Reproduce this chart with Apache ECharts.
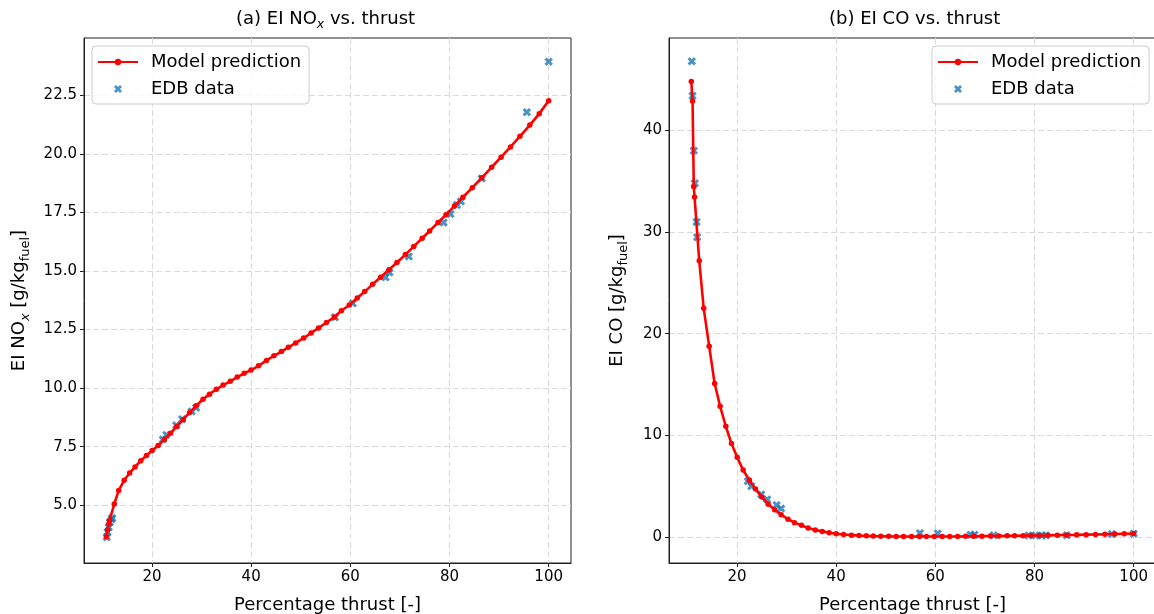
<!DOCTYPE html>
<html><head><meta charset="utf-8">
<script src="https://cdn.jsdelivr.net/npm/echarts@6/dist/echarts.min.js"></script>
<style>html,body{margin:0;padding:0;background:#fff}#c{width:1154px;height:614px}</style>
</head><body><div id="c"></div><script>
// ---- data ----
const modelThrust = [10.8, 11.05, 11.3, 11.45, 12.4, 13.3, 14.4, 15.5, 16.6, 17.75, 18.9, 20.05, 21.25, 22.5, 23.75, 25.0, 26.3, 27.6, 28.9, 30.3, 31.6, 33.0, 34.35, 35.8, 37.2, 38.6, 40.0, 41.5, 43.1, 44.6, 46.1, 47.5, 49.0, 50.6, 52.1, 53.6, 55.2, 56.8, 58.2, 59.8, 61.4, 62.9, 64.5, 66.1, 67.8, 69.4, 71.1, 72.8, 74.5, 76.0, 77.7, 79.3, 81.0, 82.7, 84.6, 86.5, 88.5, 90.4, 92.3, 94.2, 96.2, 98.1, 100.0];
const modelNox = [3.65, 3.95, 4.2, 4.35, 5.05, 5.63, 6.06, 6.37, 6.63, 6.9, 7.12, 7.33, 7.55, 7.8, 8.07, 8.36, 8.65, 8.96, 9.24, 9.52, 9.74, 9.95, 10.13, 10.29, 10.47, 10.63, 10.77, 10.95, 11.18, 11.38, 11.56, 11.74, 11.93, 12.14, 12.35, 12.57, 12.8, 13.04, 13.3, 13.55, 13.85, 14.12, 14.43, 14.73, 15.05, 15.36, 15.7, 16.05, 16.4, 16.71, 17.07, 17.4, 17.78, 18.15, 18.56, 18.98, 19.43, 19.86, 20.3, 20.75, 21.23, 21.72, 22.27];
const modelCo = [44.8, 42.9, 34.45, 33.46, 27.17, 22.5, 18.78, 15.1, 12.88, 10.9, 9.2, 7.84, 6.6, 5.6, 4.72, 3.95, 3.24, 2.68, 2.2, 1.76, 1.42, 1.16, 0.9, 0.7, 0.56, 0.43, 0.33, 0.25, 0.19, 0.15, 0.12, 0.1, 0.08, 0.07, 0.06, 0.05, 0.05, 0.05, 0.05, 0.05, 0.05, 0.06, 0.06, 0.07, 0.08, 0.09, 0.1, 0.11, 0.12, 0.13, 0.14, 0.15, 0.16, 0.17, 0.19, 0.2, 0.22, 0.24, 0.26, 0.28, 0.3, 0.32, 0.34];
const edbThrust = [10.9, 11.05, 11.3, 11.5, 11.86, 11.98, 22.2, 22.9, 24.9, 26.1, 28.0, 28.9, 56.9, 60.5, 67.1, 67.9, 71.8, 78.8, 80.2, 81.5, 82.3, 86.5, 95.6, 100.0];
const edbNox = [3.63, 3.85, 4.06, 4.27, 4.4, 4.45, 7.8, 8.0, 8.41, 8.67, 9.0, 9.16, 13.02, 13.62, 14.73, 14.94, 15.62, 17.07, 17.43, 17.82, 17.97, 18.95, 21.78, 23.94];
const edbCo = [46.8, 43.4, 38.0, 34.8, 31.0, 29.5, 5.5, 5.0, 4.2, 3.7, 3.15, 2.8, 0.38, 0.36, 0.22, 0.22, 0.17, 0.16, 0.16, 0.16, 0.16, 0.17, 0.3, 0.33];
const xTicks = [20, 40, 60, 80, 100];
const noxTicks = [5.0, 7.5, 10.0, 12.5, 15.0, 17.5, 20.0, 22.5];
const coTicks = [0, 10, 20, 30, 40];
const seriesNames = ['Model prediction', 'EDB data'];

// ---- styling ----
const FONT = 'DejaVu Sans';
const X_MARK = 'path://M2,0 L4,2 L6,0 L8,2 L6,4 L8,6 L6,8 L4,6 L2,8 L0,6 L2,4 L0,2 Z';
const pairs = (xs, ys) => xs.map((x, i) => [x, ys[i]]);
const split = { show: true, lineStyle: { color: '#dadada', width: 1, type: [6, 3] } };
const richName = {
  n: { fontFamily: FONT, fontSize: 18, fontWeight: 'normal', color: '#000', lineHeight: 26, verticalAlign: 'middle' },
  s: { fontFamily: FONT, fontSize: 13, fontWeight: 'normal', color: '#000', fontStyle: 'italic', lineHeight: 15, verticalAlign: 'bottom' },
  f: { fontFamily: FONT, fontSize: 13, fontWeight: 'normal', color: '#000', lineHeight: 15, verticalAlign: 'bottom' }
};
const richTitle = {
  n: { fontFamily: FONT, fontSize: 18, fontWeight: 'normal', color: '#000', lineHeight: 24, verticalAlign: 'middle' },
  s: { fontFamily: FONT, fontSize: 12.5, fontWeight: 'normal', color: '#000', fontStyle: 'italic', lineHeight: 14, verticalAlign: 'bottom' }
};

function xAxis(gi) {
  return {
    type: 'value', gridIndex: gi, min: 6.3, max: 104.5,
    name: 'Percentage thrust [-]', nameLocation: 'middle', nameGap: 33,
    nameTextStyle: { fontFamily: FONT, fontSize: 18, color: '#000' },
    axisLine: { show: true, onZero: false, lineStyle: { color: '#222', width: 1 } },
    axisTick: { show: true, length: 4, lineStyle: { color: '#222' }, customValues: xTicks },
    axisLabel: { customValues: xTicks, margin: 7, fontFamily: FONT, fontSize: 15, color: '#000' },
    splitLine: split
  };
}
function yAxis(gi, min, max, ticks, fmt, name, gap) {
  return {
    type: 'value', gridIndex: gi, min: min, max: max,
    name: name, nameLocation: 'middle', nameGap: gap,
    nameTextStyle: { rich: richName },
    axisLine: { show: true, onZero: false, lineStyle: { color: '#222', width: 1 } },
    axisTick: { show: true, length: 4, lineStyle: { color: '#222' }, customValues: ticks },
    axisLabel: { customValues: ticks, margin: 7, fontFamily: FONT, fontSize: 15, color: '#000', formatter: fmt },
    splitLine: split
  };
}
function legend(left) {
  return {
    data: seriesNames, orient: 'vertical', left: left, top: 46,
    itemWidth: 40, itemHeight: 8, itemGap: 7,
    padding: [6, 8, 5, 5],
    backgroundColor: 'rgba(255,255,255,0.8)', borderColor: '#cccccc', borderWidth: 1, borderRadius: 4,
    textStyle: { fontFamily: FONT, fontSize: 18, color: '#000', lineHeight: 20, padding: [0, 0, 0, 8] },
    selectedMode: false, z: 10
  };
}
function lineSeries(xi, ys) {
  return {
    name: 'Model prediction', type: 'line', xAxisIndex: xi, yAxisIndex: xi,
    data: pairs(modelThrust, ys), symbol: 'circle', symbolSize: 5.5, showAllSymbol: true,
    lineStyle: { color: '#ff0000', width: 2.6 }, itemStyle: { color: '#ff0000' },
    z: 3, animation: false
  };
}
function edbSeries(xi, ys) {
  return {
    name: 'EDB data', type: 'scatter', xAxisIndex: xi, yAxisIndex: xi,
    data: pairs(edbThrust, ys), symbol: X_MARK, symbolSize: 8.5,
    itemStyle: { color: '#1f77b4' }, z: 2, animation: false
  };
}

const chart = echarts.init(document.getElementById('c'), null, { renderer: 'canvas' });
chart.setOption({
  animation: false,
  backgroundColor: '#fff',
  title: [
    { text: '{n|(a) EI NO}{s|x}{n| vs. thrust}', left: 236, top: 7, padding: 0, textStyle: { fontWeight: 'normal', rich: richTitle } },
    { text: '{n|(b) EI CO vs. thrust}', left: 829, top: 7, padding: 0, textStyle: { fontWeight: 'normal', rich: richTitle } }
  ],
  legend: [legend(92), legend(932)],
  grid: [
    { left: 84, top: 38, width: 487, height: 525, show: true, borderColor: '#222', borderWidth: 1, outerBoundsMode: 'none', containLabel: false },
    { left: 669, top: 38, width: 487, height: 525, show: true, borderColor: '#222', borderWidth: 1, outerBoundsMode: 'none', containLabel: false }
  ],
  xAxis: [xAxis(0), xAxis(1)],
  yAxis: [
    yAxis(0, 2.53, 24.95, noxTicks, v => v.toFixed(1), '{n|EI NO}{s|x}{n| [g/kg}{f|fuel}{n|]}', 52),
    yAxis(1, -2.55, 49.09, coTicks, v => String(Math.round(v)), '{n|EI CO [g/kg}{f|fuel}{n|]}', 39)
  ],
  series: [
    lineSeries(0, modelNox), edbSeries(0, edbNox),
    lineSeries(1, modelCo), edbSeries(1, edbCo)
  ]
});
</script></body></html>
